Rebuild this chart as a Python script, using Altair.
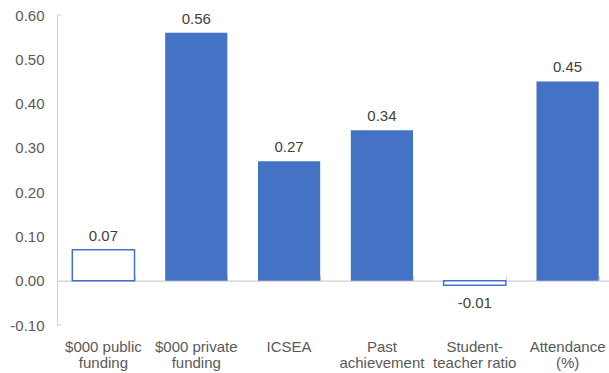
import altair as alt
import pandas as pd

# Category names; "|" marks a line break in the axis label
categories = [
    "$000 public|funding",
    "$000 private|funding",
    "ICSEA",
    "Past|achievement",
    "Student-|teacher ratio",
    "Attendance|(%)",
]
values = [0.07, 0.56, 0.27, 0.34, -0.01, 0.45]
outlined = [True, False, False, False, True, False]
y_ticks = [-0.1, 0.0, 0.1, 0.2, 0.3, 0.4, 0.5, 0.6]
y_ends = [-0.1, 0.6]

BLUE = "#4472C4"
AXIS_GREY = "#D0D0D0"
LABEL_GREY = "#595959"
VALUE_GREY = "#404040"
FONT = "Liberation Sans"

W, H = 552, 310
BAND_RANGE = 557  # bands run slightly past the right edge
Y_MIN, Y_MAX = -0.1, 0.6
zero_px = H * Y_MAX / (Y_MAX - Y_MIN)

df = pd.DataFrame({"category": categories, "value": values, "outlined": outlined})
df["label"] = [("-" if v < 0 else "") + f"{abs(v):.2f}" for v in values]

x_scale = alt.Scale(range=[0, BAND_RANGE], paddingInner=0.33, paddingOuter=0.165)

y_enc = alt.Y(
    "value:Q",
    scale=alt.Scale(domain=[Y_MIN, Y_MAX], nice=False, zero=False),
    axis=alt.Axis(
        values=y_ticks,
        labelExpr="(datum.value < -1e-9 ? '-' : '') + format(abs(datum.value), '.2f')",
        ticks=False,
        grid=False,
        domainColor=AXIS_GREY,
        domainWidth=1,
        labelFont=FONT,
        labelFontSize=15,
        labelColor=LABEL_GREY,
        labelPadding=13,
        title=None,
    ),
)

base = alt.Chart(df)

bars = base.mark_bar(stroke=BLUE).encode(
    x=alt.X(
        "category:N",
        sort=categories,
        scale=x_scale,
        axis=alt.Axis(
            orient="bottom",
            domain=False,
            ticks=False,
            labelAngle=0,
            labelExpr="split(datum.label, '|')",
            labelFont=FONT,
            labelFontSize=15,
            labelColor=LABEL_GREY,
            labelLineHeight=16,
            labelBaseline="top",
            labelPadding=14,
            title=None,
        ),
    ),
    y=y_enc,
    y2=alt.datum(0),
    fill=alt.condition(alt.datum.outlined, alt.value("white"), alt.value(BLUE)),
    strokeWidth=alt.condition(alt.datum.outlined, alt.value(1.5), alt.value(0)),
)

# Value labels above positive bars; this layer also carries the zero-line axis
pos_labels = base.transform_filter("datum.value >= 0").mark_text(
    dy=-14, baseline="middle", font=FONT, fontSize=15, color=VALUE_GREY
).encode(
    x=alt.X(
        "category:N",
        sort=categories,
        scale=x_scale,
        axis=alt.Axis(
            orient="top",
            offset=-zero_px,
            labels=False,
            domainColor=AXIS_GREY,
            domainWidth=1.2,
            tickColor=AXIS_GREY,
            tickBand="extent",
            tickSize=5,
            title=None,
        ),
    ),
    y=y_enc,
    text="label:N",
)

neg_labels = base.transform_filter("datum.value < 0").mark_text(
    dy=18, baseline="middle", font=FONT, fontSize=15, color=VALUE_GREY
).encode(
    x=alt.X("category:N", sort=categories, scale=x_scale, axis=None),
    y=y_enc,
    text="label:N",
)

# Short caps at both ends of the value axis
caps = alt.Chart(pd.DataFrame({"value": y_ends})).mark_rule(
    color=AXIS_GREY, strokeWidth=1
).encode(
    x=alt.value(0),
    x2=alt.value(4),
    y=y_enc,
)

chart = (
    alt.layer(bars, pos_labels, neg_labels, caps)
    .resolve_axis(x="independent")
    .properties(
        width=W,
        height=H,
        autosize=alt.AutoSizeParams(type="none"),
        padding={"left": 57, "top": 15, "right": 0, "bottom": 48},
        background="white",
    )
    .configure_view(stroke=None)
)

chart.save("out.html", embed_options={"renderer": "svg", "actions": False})
